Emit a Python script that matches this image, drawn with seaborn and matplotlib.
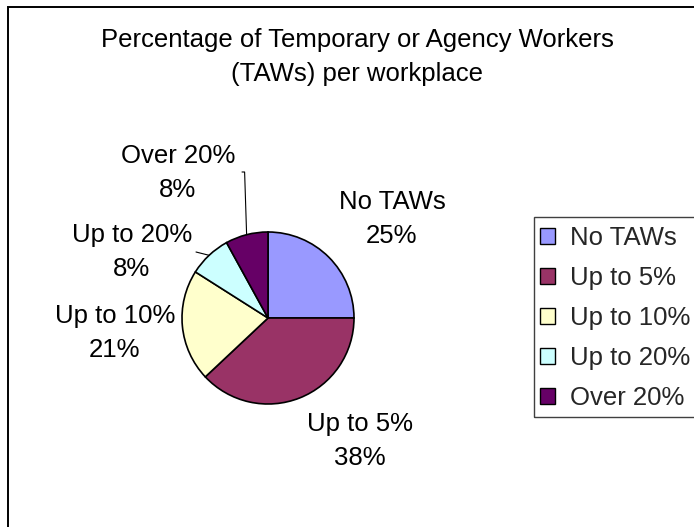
import numpy as np
import matplotlib
matplotlib.use("Agg")
import matplotlib.pyplot as plt
import seaborn as sns
from matplotlib.patches import Rectangle

# chart data
categories = ["No TAWs", "Up to 5%", "Up to 10%", "Up to 20%", "Over 20%"]
shares = [25, 38, 21, 8, 8]
colors = ["#9999FF", "#993366", "#FFFFCC", "#CCFFFF", "#660066"]
title = "Percentage of Temporary or Agency Workers\n(TAWs) per workplace"

sns.set_theme(style="white")
plt.rcParams['font.family'] = ['Liberation Sans', 'DejaVu Sans']

W, H = 694, 527
fig = plt.figure(figsize=(W / 100, H / 100), dpi=100)
fig.patch.set_facecolor("white")
ax = fig.add_axes([0, 0, 1, 1])
ax.set_xlim(0, W)
ax.set_ylim(0, H)
ax.axis("off")

# chart area frame (runs off the right and bottom edge like the source)
ax.add_patch(Rectangle((8, -20), 720, H - 7 + 20, fill=False,
                       edgecolor="black", linewidth=1.4))

cx, cy, r = 268, H - 318, 86
wedges, _ = ax.pie(shares, colors=colors, startangle=90, counterclock=False,
                   center=(cx, cy), radius=r,
                   wedgeprops=dict(edgecolor="black", linewidth=1.2))
ax.set_xlim(0, W)
ax.set_ylim(0, H)
ax.set_aspect("auto")

# label centres, measured from the pie centre (px)
label_offsets = [(124, 99), (92, -123), (-153, -15), (-136, 66), (-90, 145)]
leader = [False, False, False, True, True]
fs = 18.5
ls = 1.5
for w, name, val, (dx, dy), lead in zip(wedges, categories, shares,
                                         label_offsets, leader):
    lx, ly = cx + dx, cy + dy
    ax.text(lx, ly, f"{name}\n{val}%", ha="center", va="center",
            fontsize=fs, linespacing=ls, color="black")
    if lead:
        mid = np.deg2rad((w.theta1 + w.theta2) / 2)
        px, py = cx + r * np.cos(mid), cy + r * np.sin(mid)
        if name == "Over 20%":
            xs = [lx + 64, px - 2, px]
            ys = [ly + 1, ly + 1, py]
        else:
            xs = [lx + 64, px]
            ys = [ly, py]
        ax.plot(xs, ys, color="black", linewidth=0.8)

ax.text(357, H - 57, title, ha="center", va="center", fontsize=fs,
        linespacing=ls, color="black")

# legend box (also cut off at the right edge)
ax.add_patch(Rectangle((534, H - 417), 200, 200, fill=False,
                       edgecolor="#404040", linewidth=1.0))
leg = ax.legend(wedges, categories, loc="upper left",
                bbox_to_anchor=(540 / W, 1 - 226 / H), frameon=False,
                fontsize=fs, handlelength=0.6, handleheight=0.6,
                handletextpad=0.55, labelspacing=0.62, borderpad=0,
                borderaxespad=0)
for h in leg.legend_handles:
    h.set_linewidth(1.0)
    h.set_edgecolor("black")

fig.savefig("out.png", dpi=100, facecolor="white")
